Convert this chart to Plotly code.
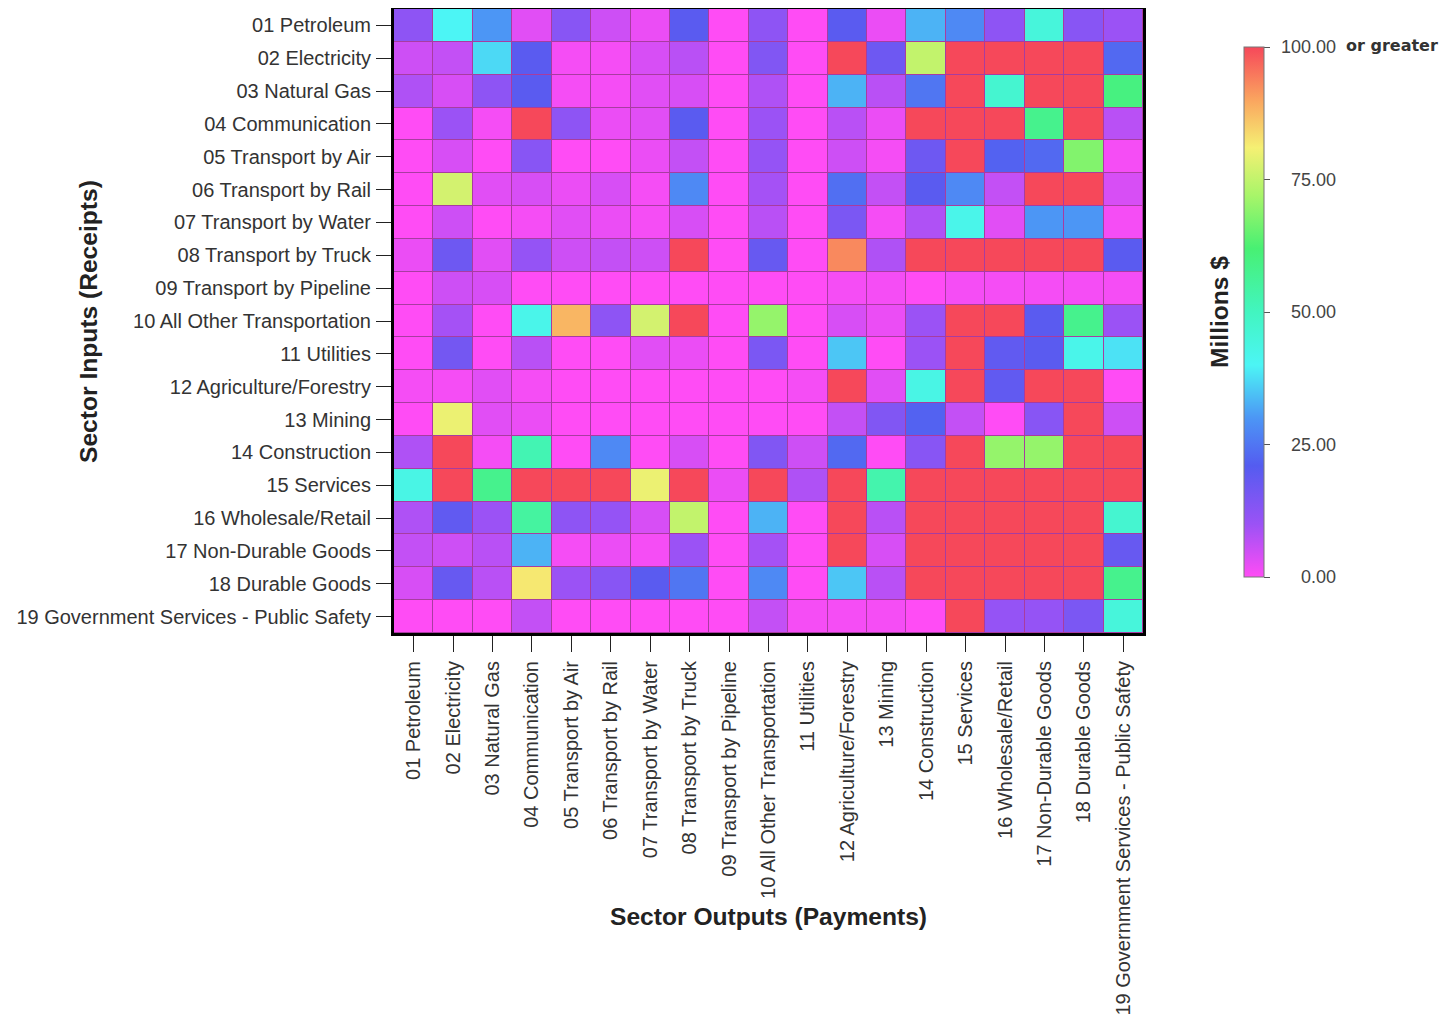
import plotly.graph_objects as go

sectors = [
    "01 Petroleum", "02 Electricity", "03 Natural Gas", "04 Communication",
    "05 Transport by Air", "06 Transport by Rail", "07 Transport by Water",
    "08 Transport by Truck", "09 Transport by Pipeline", "10 All Other Transportation",
    "11 Utilities", "12 Agriculture/Forestry", "13 Mining", "14 Construction",
    "15 Services", "16 Wholesale/Retail", "17 Non-Durable Goods", "18 Durable Goods",
    "19 Government Services - Public Safety",
]

# rows = inputs (receipts), columns = outputs (payments), millions $
r01 = [12, 40, 30, 3, 13, 5, 2, 20, 0, 12, 0, 20, 2, 33, 28, 12, 45, 13, 10]
r02 = [5, 6, 37, 20, 1, 1, 4, 7, 0, 14, 0, 100, 17, 75, 100, 100, 100, 100, 23]
r03 = [8, 4, 12, 20, 1, 1, 3, 4, 0, 8, 0, 33, 7, 25, 100, 47, 100, 100, 60]
r04 = [0, 10, 1, 100, 12, 2, 3, 20, 0, 10, 0, 7, 2, 100, 100, 100, 58, 100, 7]
r05 = [0, 4, 0, 13, 0, 0, 2, 6, 0, 11, 0, 5, 1, 17, 100, 22, 23, 68, 1]
r06 = [0, 77, 3, 4, 2, 4, 1, 28, 0, 9, 0, 24, 6, 20, 28, 6, 100, 100, 4]
r07 = [0, 5, 0, 1, 3, 2, 1, 4, 0, 7, 0, 15, 1, 8, 42, 3, 30, 30, 1]
r08 = [2, 17, 3, 11, 5, 6, 5, 100, 0, 18, 0, 93, 8, 100, 100, 100, 100, 100, 20]
r09 = [0, 5, 4, 0, 0, 0, 0, 0, 0, 0, 0, 1, 1, 0, 1, 1, 1, 1, 1]
r10 = [0, 9, 0, 42, 88, 12, 77, 100, 0, 70, 0, 4, 2, 10, 100, 100, 20, 58, 10]
r11 = [0, 16, 0, 7, 0, 0, 3, 2, 0, 15, 0, 35, 0, 10, 100, 19, 20, 42, 38]
r12 = [1, 1, 3, 1, 0, 0, 0, 0, 0, 0, 1, 100, 3, 43, 100, 19, 100, 100, 0]
r13 = [0, 80, 3, 2, 0, 0, 0, 0, 0, 0, 0, 6, 14, 22, 6, 0, 13, 100, 5]
r14 = [8, 100, 1, 52, 0, 28, 0, 4, 0, 14, 5, 23, 0, 13, 100, 70, 70, 100, 100]
r15 = [43, 100, 58, 100, 100, 100, 80, 100, 2, 100, 8, 100, 53, 100, 100, 100, 100, 100, 100]
r16 = [8, 19, 10, 55, 12, 11, 4, 75, 0, 33, 0, 100, 7, 100, 100, 100, 100, 100, 47]
r17 = [6, 5, 7, 33, 1, 2, 1, 10, 0, 9, 0, 100, 4, 100, 100, 100, 100, 100, 18]
r18 = [4, 18, 7, 82, 10, 13, 20, 25, 0, 28, 0, 35, 7, 100, 100, 100, 100, 100, 58]
r19 = [0, 0, 0, 6, 0, 0, 0, 0, 0, 6, 1, 1, 1, 0, 100, 11, 11, 15, 45]
values = [r01, r02, r03, r04, r05, r06, r07, r08, r09, r10,
          r11, r12, r13, r14, r15, r16, r17, r18, r19]

cbar_vals = [0, 25, 50, 75, 100]
cbar_text = ["0.00", "25.00", "50.00", "75.00", "100.00"]
cbar_suffix = "or greater"

colorscale = [
    [0.00, "rgb(255,76,245)"],
    [0.10, "rgb(155,82,245)"],
    [0.21, "rgb(84,92,240)"],
    [0.30, "rgb(76,150,245)"],
    [0.40, "rgb(76,245,245)"],
    [0.50, "rgb(66,245,192)"],
    [0.62, "rgb(72,240,115)"],
    [0.72, "rgb(168,245,105)"],
    [0.81, "rgb(245,240,115)"],
    [0.90, "rgb(250,165,95)"],
    [1.00, "rgb(246,72,90)"],
]

# The page body has an 8px default margin; work in window pixels and offset.
OFF = 8
W, H = 1448 - OFF, 1020 - OFF
PL, PR, PT, PB = 394, 1143, 9, 633          # plot area in window pixels
L, R, T, B = PL - OFF, W - (PR - OFF), PT - OFF, H - (PB - OFF)
pw, ph = W - L - R, H - T - B

def px_x(x):
    return (x - OFF - L) / pw

def px_y(y):
    return (H - B - (y - OFF)) / ph

# colorbar geometry (window pixels)
CB_TOP, CB_BOT, CB_LEFT = 47, 577, 1244
ZMIN, ZMAX = 0, 100

def cb_y(v):
    return CB_BOT - (v - ZMIN) / (ZMAX - ZMIN) * (CB_BOT - CB_TOP)

fig = go.Figure(go.Heatmap(
    z=values, x=sectors, y=sectors,
    zmin=ZMIN, zmax=ZMAX, colorscale=colorscale,
    xgap=1, ygap=1,
    colorbar=dict(
        thickness=20, lenmode="pixels", len=CB_BOT - CB_TOP,
        x=px_x(CB_LEFT), xanchor="left", xpad=0,
        y=px_y(CB_TOP), yanchor="top", ypad=0,
        tickvals=cbar_vals, showticklabels=False,
        ticks="outside", ticklen=6, tickcolor="#555",
        outlinewidth=1, outlinecolor="#777",
    ),
))

font = dict(family="Liberation Sans, Arial, sans-serif", size=20, color="#333")
title_font = dict(size=24.6, color="#222", family="Liberation Sans, Arial, sans-serif")

annotations = [
    dict(text="<b>Sector Inputs (Receipts)</b>", textangle=-90,
         x=px_x(88), y=px_y(322), xref="paper", yref="paper",
         xanchor="center", yanchor="middle", showarrow=False, font=title_font),
    dict(text="<b>Sector Outputs (Payments)</b>",
         x=px_x(768), y=px_y(916), xref="paper", yref="paper",
         xanchor="center", yanchor="middle", showarrow=False, font=title_font),
    dict(text="<b>Millions $</b>", textangle=-90,
         x=px_x(1219), y=px_y(312), xref="paper", yref="paper",
         xanchor="center", yanchor="middle", showarrow=False, font=title_font),
]
for v, t in zip(cbar_vals, cbar_text):
    annotations.append(dict(
        text=t, x=px_x(1338), y=px_y(cb_y(v)), xref="paper", yref="paper",
        xanchor="right", yanchor="middle", showarrow=False,
        font=dict(size=18, color="#444", family="Liberation Sans, Arial, sans-serif")))
annotations.append(dict(
    text=cbar_suffix, x=px_x(1344), y=px_y(cb_y(cbar_vals[-1]) - 2),
    xref="paper", yref="paper", xanchor="left", yanchor="middle", showarrow=False,
    font=dict(size=16, color="#333", family="DejaVu Sans", weight="bold")))

fig.update_layout(
    width=W, height=H,
    margin=dict(l=L, r=R, t=T, b=B, autoexpand=False),
    paper_bgcolor="white", plot_bgcolor="#a83ca0",
    font=font,
    xaxis=dict(tickangle=-90, ticks="outside", ticklen=16, tickcolor="#222",
               ticklabelstandoff=1,
               showline=True, linecolor="black", linewidth=3, mirror=True,
               showgrid=False, tickfont=font),
    yaxis=dict(autorange="reversed", ticks="outside", ticklen=15, tickcolor="#222",
               ticklabelstandoff=1,
               showline=True, linecolor="black", linewidth=3, mirror=True,
               showgrid=False, tickfont=font),
    annotations=annotations,
)

fig.write_html("out.html")
